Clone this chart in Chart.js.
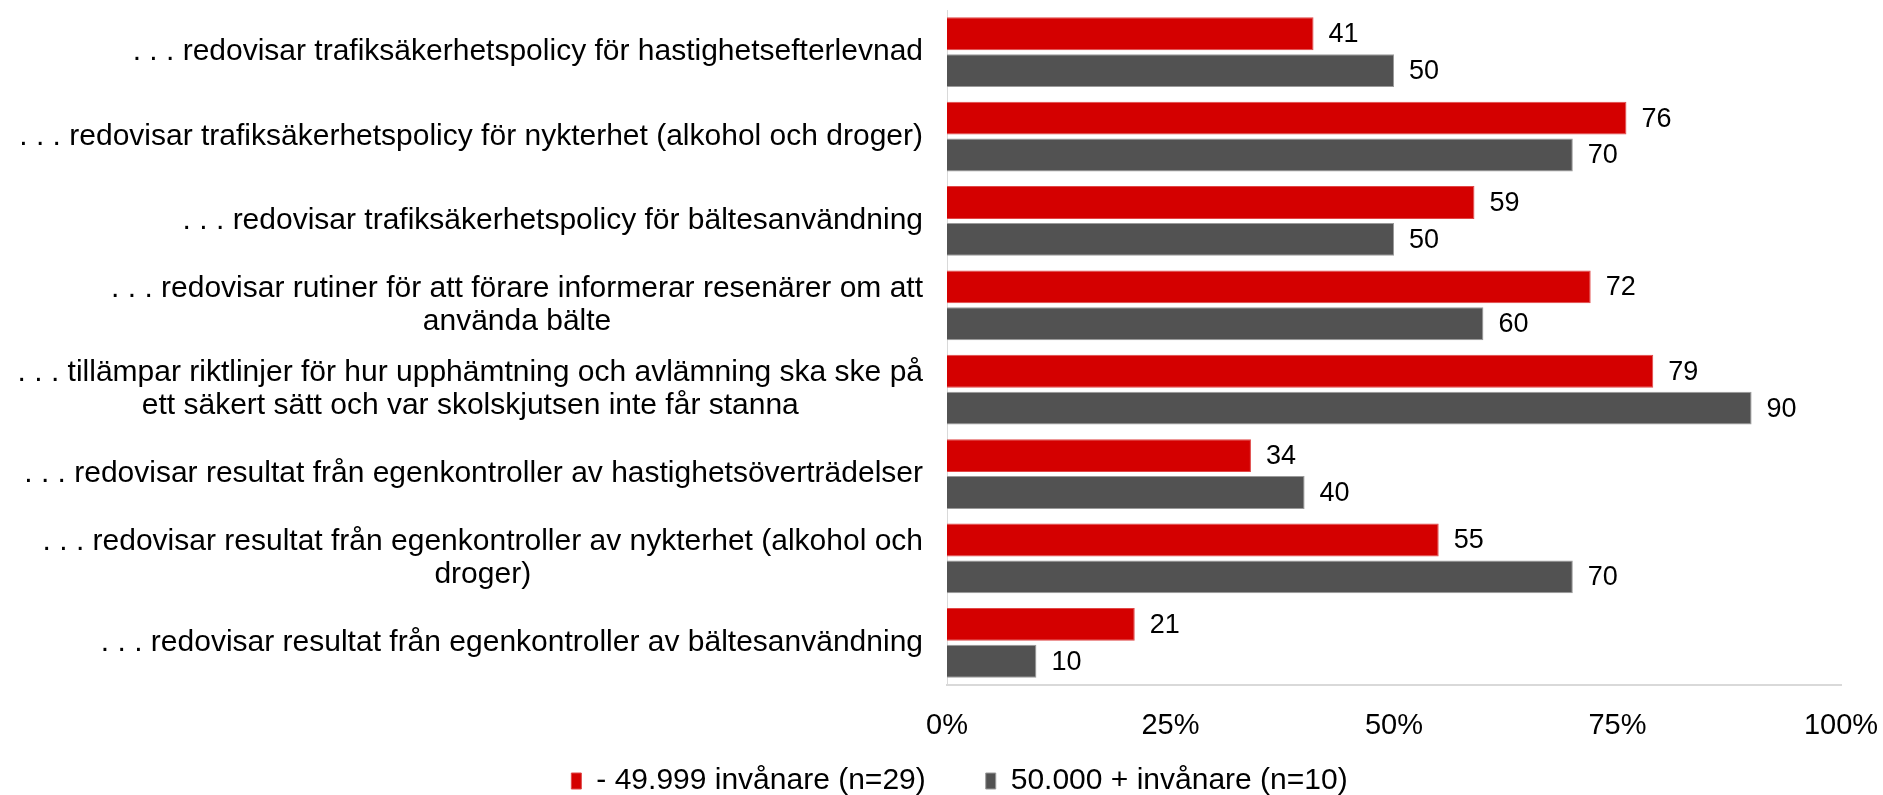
<!DOCTYPE html>
<html>
<head>
<meta charset="utf-8">
<script src="https://cdn.jsdelivr.net/npm/chart.js@4.4.1/dist/chart.umd.min.js"></script>
<style>
  html, body { margin: 0; padding: 0; background: #fff; }
</style>
</head>
<body>
<canvas id="chart" width="1883" height="795"></canvas>
<script>
const categories = [
  ". . . redovisar trafiksäkerhetspolicy för hastighetsefterlevnad",
  ". . . redovisar trafiksäkerhetspolicy för nykterhet (alkohol och droger)",
  ". . . redovisar trafiksäkerhetspolicy för bältesanvändning",
  [". . . redovisar rutiner för att förare informerar resenärer om att", "använda bälte"],
  [". . . tillämpar riktlinjer för hur upphämtning och avlämning ska ske på", "ett säkert sätt och var skolskjutsen inte får stanna"],
  ". . . redovisar resultat från egenkontroller av hastighetsöverträdelser",
  [". . . redovisar resultat från egenkontroller av nykterhet (alkohol och", "droger)"],
  ". . . redovisar resultat från egenkontroller av bältesanvändning",
];
const smallMunicipalities = [41, 76, 59, 72, 79, 34, 55, 21];
const largeMunicipalities = [50, 70, 50, 60, 90, 40, 70, 10];
const seriesNames = ["- 49.999 invånare (n=29)", "50.000 + invånare (n=10)"];
const xTicks = [0, 25, 50, 75, 100];

const FONT = "'Liberation Sans', Arial, sans-serif";
const LABEL_SIZE = 30;
const VALUE_SIZE = 27;
const TICK_SIZE = 29;
const LINE_H = 33;

Chart.defaults.font.family = FONT;
Chart.defaults.font.size = LABEL_SIZE;
Chart.defaults.color = "#000";

// category text drawn by hand so wrapped lines can be centred like in Excel
const categoryLabels = {
  id: "categoryLabels",
  afterDraw(chart) {
    const yScale = chart.scales.y;
    const ctx = chart.ctx;
    ctx.save();
    ctx.font = `${LABEL_SIZE}px ${FONT}`;
    ctx.fillStyle = "#000";
    ctx.textAlign = "center";
    ctx.textBaseline = "middle";
    const right = yScale.right - 24;
    categories.forEach((label, i) => {
      const lines = Array.isArray(label) ? label : [label];
      const widest = Math.max(...lines.map((l) => ctx.measureText(l).width));
      const cx = right - widest / 2;
      const cy = yScale.getPixelForValue(i);
      lines.forEach((line, k) => {
        ctx.fillText(line, cx, cy + (k - (lines.length - 1) / 2) * LINE_H);
      });
    });
    ctx.restore();
  },
};

// percent labels under the x axis
const xTickLabels = {
  id: "xTickLabels",
  afterDraw(chart) {
    const xScale = chart.scales.x;
    const ctx = chart.ctx;
    ctx.save();
    ctx.font = `${TICK_SIZE}px ${FONT}`;
    ctx.fillStyle = "#000";
    ctx.textAlign = "center";
    ctx.textBaseline = "middle";
    xTicks.forEach((v) => {
      ctx.fillText(v + "%", xScale.getPixelForValue(v), xScale.top + 41);
    });
    ctx.restore();
  },
};

const valueLabels = {
  id: "valueLabels",
  afterDatasetsDraw(chart) {
    const ctx = chart.ctx;
    ctx.save();
    ctx.font = `${VALUE_SIZE}px ${FONT}`;
    ctx.fillStyle = "#000";
    ctx.textAlign = "left";
    ctx.textBaseline = "middle";
    chart.data.datasets.forEach((ds, di) => {
      chart.getDatasetMeta(di).data.forEach((bar, i) => {
        ctx.fillText(String(ds.data[i]), bar.x + 15, bar.y + 1);
      });
    });
    ctx.restore();
  },
};

const ctx = document.getElementById("chart").getContext("2d");
const chart = new Chart(ctx, {
  type: "bar",
  data: {
    labels: categories,
    datasets: [
      {
        label: seriesNames[0],
        data: smallMunicipalities,
        backgroundColor: "#d40000",
        borderColor: "#e04848",
        borderWidth: 1,
        categoryPercentage: 0.875,
        barPercentage: 0.89,
      },
      {
        label: seriesNames[1],
        data: largeMunicipalities,
        backgroundColor: "#525252",
        borderColor: "#9a9a9a",
        borderWidth: 1,
        categoryPercentage: 0.875,
        barPercentage: 0.89,
      },
    ],
  },
  options: {
    indexAxis: "y",
    responsive: false,
    animation: false,
    layout: {
      padding: { left: 78, right: 42, top: 10, bottom: -11 },
    },
    scales: {
      x: {
        min: 0,
        max: 100,
        ticks: { display: false, stepSize: 25 },
        grid: { display: false, drawTicks: false },
        border: { display: true, color: "#d9d9d9", width: 2 },
        afterFit: (scale) => {
          scale.height = 21;
        },
      },
      y: {
        ticks: { display: false },
        grid: { display: false, drawTicks: false },
        border: { display: true, color: "#d9d9d9", width: 1 },
        afterFit: (scale) => {
          scale.width = 869;
        },
      },
    },
    plugins: {
      legend: {
        position: "bottom",
        labels: {
          boxWidth: 10,
          boxHeight: 16,
          padding: 60,
          color: "#000",
          font: { size: LABEL_SIZE },
        },
      },
      tooltip: { enabled: false },
    },
  },
  plugins: [categoryLabels, xTickLabels, valueLabels],
});
</script>
</body>
</html>
